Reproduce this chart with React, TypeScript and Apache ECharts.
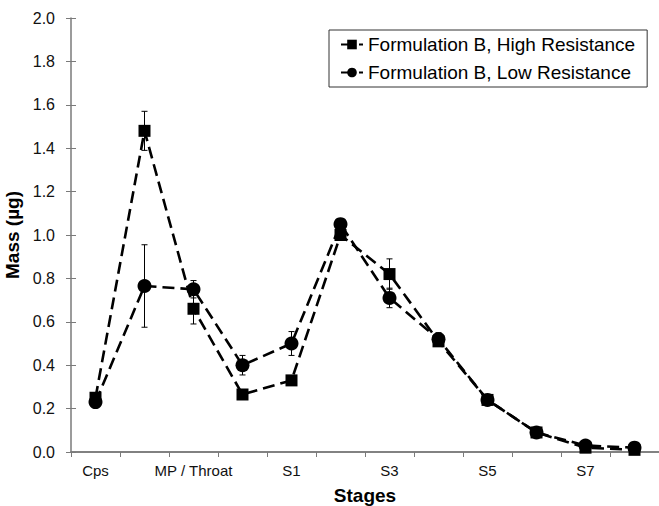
import React, { useEffect, useRef } from "react";
import * as echarts from "echarts";

const categories = ["Cps", "Device", "MP / Throat", "S0", "S1", "S2", "S3", "S4", "S5", "S6", "S7", "Filter"];
const highValues = [0.25, 1.48, 0.66, 0.265, 0.33, 1.0, 0.82, 0.51, 0.24, 0.09, 0.02, 0.01];
const highErrors = [0, 0.09, 0.07, 0, 0, 0, 0.07, 0.02, 0, 0, 0, 0];
const lowValues = [0.23, 0.765, 0.75, 0.40, 0.50, 1.05, 0.71, 0.52, 0.24, 0.09, 0.03, 0.02];
const lowErrors = [0, 0.19, 0.04, 0.045, 0.055, 0, 0.045, 0.03, 0, 0, 0, 0];
const yTicks = { min: 0, max: 2, interval: 0.2 };

const FONT = "'Liberation Sans', Arial, sans-serif";
const AXIS_COLOR = "#7a7a7a";

function errData(values: number[], errs: number[]) {
  const out: number[][] = [];
  values.forEach((v, i) => {
    if (errs[i] > 0) out.push([i, v - errs[i], v + errs[i]]);
  });
  return out;
}

const renderErr = (params: any, api: any) => {
  const x = api.value(0);
  const pLo = api.coord([x, api.value(1)]);
  const pHi = api.coord([x, api.value(2)]);
  const w = 3;
  const style = { stroke: "#000", lineWidth: 1 };
  return {
    type: "group",
    children: [
      { type: "line", shape: { x1: pLo[0], y1: pLo[1], x2: pHi[0], y2: pHi[1] }, style },
      { type: "line", shape: { x1: pHi[0] - w, y1: pHi[1], x2: pHi[0] + w, y2: pHi[1] }, style },
      { type: "line", shape: { x1: pLo[0] - w, y1: pLo[1], x2: pLo[0] + w, y2: pLo[1] }, style },
    ],
  };
};

export default function App() {
  const ref = useRef<HTMLDivElement>(null);
  useEffect(() => {
    if (!ref.current) return;
    const chart = echarts.init(ref.current, undefined, { renderer: "svg" });
    const lineStyle = { color: "#000", width: 2.6, type: [12, 6] as any };
    chart.setOption({
      animation: false,
      backgroundColor: "#fff",
      textStyle: { fontFamily: FONT },
      grid: { left: 71, width: 588, top: 18, height: 434, containLabel: false, outerBoundsMode: "none" },
      legend: {
        orient: "vertical",
        left: 329,
        top: 30,
        padding: [5, 12, 5, 11],
        itemGap: 9,
        itemWidth: 22,
        itemHeight: 12,
        borderColor: "#333",
        borderWidth: 1,
        borderRadius: 0,
        textStyle: { fontSize: 19, color: "#000", fontFamily: FONT },
        data: ["Formulation B, High Resistance", "Formulation B, Low Resistance"],
      },
      xAxis: [
        {
          type: "category",
          data: categories,
          boundaryGap: true,
          name: "Stages",
          nameLocation: "middle",
          nameGap: 34,
          nameTextStyle: { fontSize: 19, fontWeight: "bold", color: "#000", fontFamily: FONT },
          axisLine: { lineStyle: { color: AXIS_COLOR, width: 1.5 } },
          axisTick: { show: true, inside: false, length: 5, lineStyle: { color: AXIS_COLOR }, interval: 0 },
          axisLabel: { interval: 1, fontSize: 15, color: "#111", margin: 11, fontFamily: FONT },
          splitLine: { show: false },
        },
        {
          type: "category",
          data: categories,
          position: "top",
          axisLine: { lineStyle: { color: AXIS_COLOR, width: 1.5 } },
          axisTick: { show: false },
          axisLabel: { show: false },
          splitLine: { show: false },
        },
      ],
      yAxis: [
        {
          type: "value",
          min: yTicks.min,
          max: yTicks.max,
          interval: yTicks.interval,
          name: "Mass (µg)",
          nameLocation: "middle",
          nameGap: 37,
          nameTextStyle: { fontSize: 19, fontWeight: "bold", color: "#000", fontFamily: FONT },
          axisLine: { show: true, lineStyle: { color: AXIS_COLOR, width: 1.5 } },
          axisTick: { show: true, inside: false, length: 5, lineStyle: { color: AXIS_COLOR } },
          axisLabel: { fontSize: 16, color: "#111", margin: 16, fontFamily: FONT, formatter: (v: number) => v.toFixed(1) },
          splitLine: { show: false },
        },
        {
          type: "value",
          min: yTicks.min,
          max: yTicks.max,
          interval: yTicks.interval,
          position: "left",
          axisLine: { show: false },
          axisTick: { show: true, inside: true, length: 5, lineStyle: { color: AXIS_COLOR } },
          axisLabel: { show: false },
          splitLine: { show: false },
        },
      ],
      series: [
        {
          type: "custom",
          name: "errHigh",
          renderItem: renderErr,
          data: errData(highValues, highErrors),
          encode: { x: 0, y: [1, 2] },
          z: 1,
          silent: true,
        },
        {
          type: "custom",
          name: "errLow",
          renderItem: renderErr,
          data: errData(lowValues, lowErrors),
          encode: { x: 0, y: [1, 2] },
          z: 1,
          silent: true,
        },
        {
          name: "Formulation B, High Resistance",
          type: "line",
          data: highValues,
          symbol: "rect",
          symbolSize: 12,
          itemStyle: { color: "#000" },
          lineStyle,
          z: 3,
        },
        {
          name: "Formulation B, Low Resistance",
          type: "line",
          data: lowValues,
          symbol: "circle",
          symbolSize: 14,
          itemStyle: { color: "#000" },
          lineStyle,
          z: 4,
        },
      ],
    });
    return () => chart.dispose();
  }, []);
  return <div ref={ref} style={{ width: 659, height: 506, position: "absolute", left: 0, top: 0 }} />;
}
